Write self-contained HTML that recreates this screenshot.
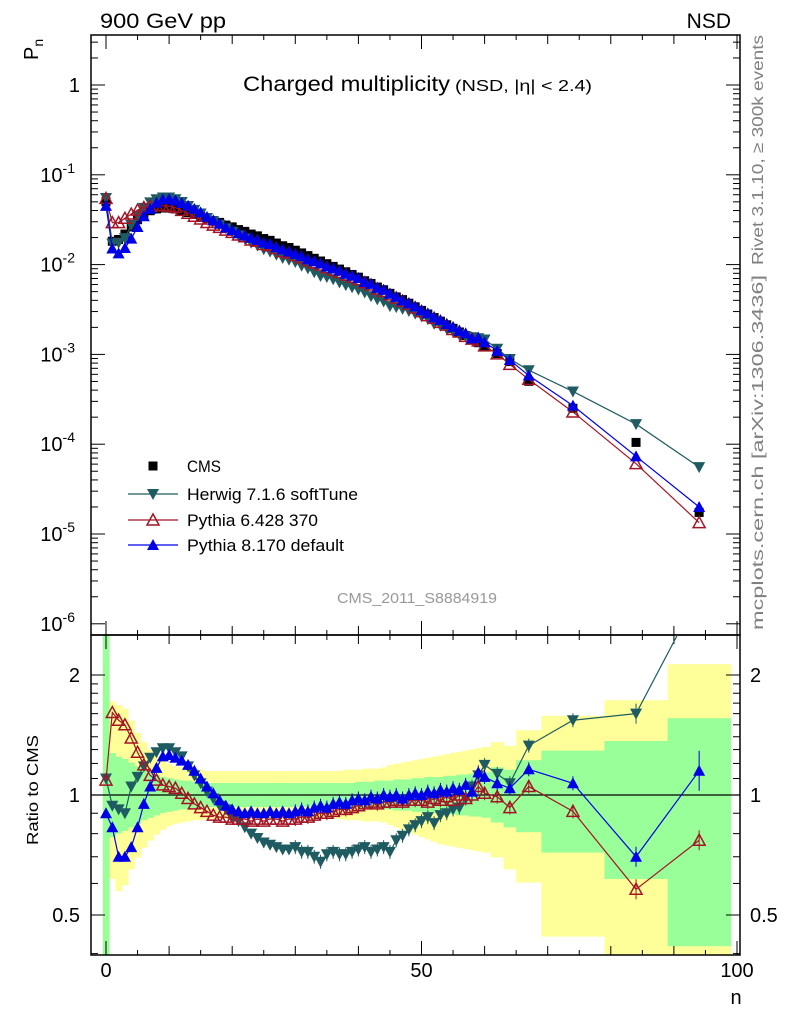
<!DOCTYPE html>
<html><head><meta charset="utf-8"><style>
html,body{margin:0;background:#fff;overflow:hidden;width:786px;height:1024px}
svg{display:block}
svg text{font-family:"Liberation Sans",sans-serif}
</style></head><body>
<svg id="chart" width="786" height="1024" viewBox="0 0 786 1024" xmlns="http://www.w3.org/2000/svg">
<defs>
<clipPath id="cm"><rect x="91" y="35" width="649" height="600"/></clipPath>
<clipPath id="cr"><rect x="91" y="635" width="649" height="320"/></clipPath>
</defs>
<rect width="786" height="1024" fill="#fff"/>
<g id="bands" clip-path="url(#cr)"></g>
<g id="axes"></g>
<g id="mainMarks" clip-path="url(#cm)"></g>
<g id="ratioMarks" clip-path="url(#cr)"></g>
<text x="100" y="28" font-size="21" textLength="126" lengthAdjust="spacingAndGlyphs">900 GeV pp</text>
<text x="731" y="28" font-size="21" text-anchor="end">NSD</text>
<text x="243" y="91" font-size="21" textLength="207" lengthAdjust="spacingAndGlyphs">Charged multiplicity</text>
<text x="455" y="91" font-size="16" textLength="137" lengthAdjust="spacingAndGlyphs">(NSD, |η| &lt; 2.4)</text>
<text transform="translate(38,60) rotate(-90)" font-size="20">P<tspan font-size="14" dy="5">n</tspan></text>
<text transform="translate(38,790) rotate(-90)" font-size="16" text-anchor="middle" textLength="110" lengthAdjust="spacingAndGlyphs">Ratio to CMS</text>
<text x="736" y="1004" font-size="20" text-anchor="middle">n</text>
<text transform="translate(763,265) rotate(-90)" font-size="16" fill="#808080" textLength="230" lengthAdjust="spacingAndGlyphs">Rivet 3.1.10, ≥ 300k events</text>
<text transform="translate(763,630) rotate(-90)" font-size="16" fill="#808080" textLength="355" lengthAdjust="spacingAndGlyphs">mcplots.cern.ch [arXiv:1306.3436]</text>
<text x="417" y="603" font-size="15" fill="#999" text-anchor="middle" textLength="160" lengthAdjust="spacingAndGlyphs">CMS_2011_S8884919</text>
<g id="legend"></g>
</svg>
<script>
const nVals=[0,1,2,3,4,5,6,7,8,9,10,11,12,13,14,15,16,17,18,19,20,21,22,23,24,25,26,27,28,29,30,31,32,33,34,35,36,37,38,39,40,41,42,43,44,45,46,47,48,49,50,51,52,53,54,55,56,57,58,59,60,62,64,67,74,84,94];
const binEdges=[-0.5,0.5,1.5,2.5,3.5,4.5,5.5,6.5,7.5,8.5,9.5,10.5,11.5,12.5,13.5,14.5,15.5,16.5,17.5,18.5,19.5,20.5,21.5,22.5,23.5,24.5,25.5,26.5,27.5,28.5,29.5,30.5,31.5,32.5,33.5,34.5,35.5,36.5,37.5,38.5,39.5,40.5,41.5,42.5,43.5,44.5,45.5,46.5,47.5,48.5,49.5,50.5,51.5,52.5,53.5,54.5,55.5,56.5,57.5,58.5,59.5,61,63,65,69,79,89,99];
const cmsLog=[-1.30,-1.74,-1.72,-1.66,-1.58,-1.50,-1.44,-1.40,-1.38,-1.37,-1.37,-1.38,-1.40,-1.42,-1.44,-1.46,-1.49,-1.51,-1.53,-1.56,-1.58,-1.61,-1.63,-1.66,-1.68,-1.71,-1.73,-1.76,-1.79,-1.81,-1.84,-1.87,-1.90,-1.93,-1.96,-1.99,-2.02,-2.05,-2.08,-2.11,-2.14,-2.18,-2.21,-2.25,-2.28,-2.32,-2.36,-2.39,-2.43,-2.47,-2.51,-2.55,-2.59,-2.63,-2.67,-2.71,-2.75,-2.79,-2.83,-2.87,-2.91,-2.99,-3.08,-3.30,-3.60,-3.98,-4.76];
const herwigRatio=[1.10,0.94,0.92,0.90,1.05,1.11,1.18,1.24,1.28,1.31,1.31,1.28,1.25,1.18,1.12,1.07,1.02,0.98,0.94,0.92,0.88,0.86,0.83,0.80,0.78,0.76,0.75,0.74,0.73,0.73,0.74,0.72,0.72,0.70,0.68,0.71,0.72,0.71,0.71,0.72,0.73,0.74,0.72,0.73,0.74,0.72,0.77,0.79,0.82,0.84,0.86,0.88,0.85,0.89,0.90,0.92,0.93,0.98,1.05,1.12,1.19,1.13,1.07,1.33,1.54,1.60,3.20];
const py6Ratio=[1.09,1.61,1.54,1.50,1.39,1.28,1.19,1.12,1.09,1.06,1.05,1.04,1.01,0.98,0.95,0.93,0.91,0.89,0.88,0.88,0.87,0.87,0.87,0.86,0.87,0.86,0.87,0.87,0.86,0.87,0.87,0.88,0.88,0.89,0.90,0.90,0.91,0.92,0.92,0.93,0.94,0.95,0.96,0.95,0.96,0.96,0.97,0.96,0.97,0.97,0.97,0.96,0.98,0.97,0.99,0.97,1.00,0.98,1.00,1.05,1.01,0.99,0.93,1.05,0.91,0.58,0.77];
const py8Ratio=[0.90,0.83,0.70,0.70,0.74,0.83,0.95,1.05,1.17,1.25,1.26,1.24,1.22,1.19,1.15,1.10,1.05,1.01,0.97,0.94,0.92,0.91,0.90,0.91,0.90,0.90,0.91,0.90,0.91,0.90,0.91,0.92,0.91,0.93,0.94,0.93,0.95,0.96,0.95,0.97,0.98,0.97,0.99,0.98,1.00,0.99,1.00,0.98,1.00,1.01,1.00,1.02,1.01,1.03,1.02,1.04,1.03,1.06,1.02,1.14,1.11,1.07,1.04,1.16,1.07,0.70,1.15];
const greenUp=[3.0,0.35,0.32,0.30,0.27,0.24,0.21,0.19,0.17,0.15,0.14,0.13,0.12,0.12,0.11,0.11,0.10,0.10,0.10,0.10,0.10,0.10,0.10,0.10,0.10,0.10,0.10,0.10,0.10,0.10,0.10,0.10,0.10,0.10,0.10,0.10,0.10,0.10,0.10,0.10,0.11,0.11,0.11,0.12,0.12,0.12,0.13,0.13,0.13,0.14,0.14,0.15,0.15,0.15,0.16,0.16,0.17,0.17,0.18,0.18,0.19,0.23,0.21,0.29,0.37,0.45,0.64];
const greenDown=[3.0,0.35,0.32,0.30,0.27,0.24,0.21,0.19,0.17,0.15,0.14,0.13,0.12,0.12,0.11,0.11,0.10,0.10,0.10,0.10,0.10,0.10,0.10,0.10,0.10,0.10,0.10,0.10,0.10,0.10,0.10,0.10,0.10,0.10,0.10,0.10,0.10,0.10,0.10,0.10,0.11,0.11,0.11,0.12,0.12,0.12,0.13,0.13,0.13,0.14,0.14,0.15,0.15,0.15,0.16,0.16,0.17,0.17,0.18,0.18,0.19,0.23,0.27,0.31,0.48,0.70,1.26];
const yellowUp=[1.07,0.78,0.75,0.72,0.62,0.52,0.44,0.38,0.33,0.29,0.26,0.24,0.23,0.22,0.21,0.21,0.20,0.20,0.20,0.20,0.20,0.20,0.20,0.20,0.20,0.20,0.20,0.20,0.20,0.20,0.20,0.20,0.20,0.20,0.20,0.20,0.20,0.20,0.21,0.21,0.21,0.22,0.22,0.22,0.23,0.25,0.26,0.27,0.28,0.29,0.30,0.31,0.32,0.33,0.34,0.35,0.36,0.37,0.38,0.39,0.40,0.44,0.41,0.54,0.66,0.79,1.09];
const yellowDown=[3.0,0.70,0.80,0.75,0.62,0.52,0.44,0.38,0.33,0.29,0.26,0.24,0.23,0.22,0.21,0.21,0.20,0.20,0.20,0.20,0.20,0.20,0.20,0.20,0.20,0.20,0.20,0.20,0.20,0.20,0.20,0.20,0.20,0.20,0.20,0.20,0.20,0.20,0.21,0.21,0.21,0.22,0.22,0.22,0.23,0.25,0.27,0.29,0.31,0.33,0.35,0.37,0.39,0.41,0.42,0.43,0.44,0.45,0.46,0.47,0.48,0.52,0.62,0.73,1.18,1.50,1.50];
const xTicks=[0,50,100];
const yTickExp=[0,-1,-2,-3,-4,-5,-6];
const ratioTicks=[0.5,1,2];

const NS='http://www.w3.org/2000/svg';
const X0=91,X1=740,MT=35,MB=635,RB=955;
const xs=n=>106+n*6.31;
const ysLog=l=>85-l*89.8;
const ysR=r=>795-Math.log2(r)*120;
function mk(tag,attrs,parent){const e=document.createElementNS(NS,tag);for(const k in attrs)e.setAttribute(k,attrs[k]);parent.appendChild(e);return e;}
const bands=document.getElementById('bands'),axes=document.getElementById('axes'),mm=document.getElementById('mainMarks'),rm=document.getElementById('ratioMarks'),lg=document.getElementById('legend');

const N=nVals.length;
[[yellowUp,yellowDown,'#ffff99','yellow-band'],[greenUp,greenDown,'#99ff99','green-band']].forEach(([wu,wd,c,name])=>{
  for(let i=0;i<N;i++){
    const top=ysR(Math.pow(2,wu[i])),bot=ysR(Math.pow(2,-wd[i]));
    const x1=xs(binEdges[i]),x2=xs(binEdges[i+1]);
    const r=mk('rect',{x:x1,y:top,width:x2-x1+0.5,height:bot-top,fill:c},bands);
    
    
  }
});

mk('rect',{x:X0,y:MT,width:X1-X0,height:MB-MT,fill:'none',stroke:'#000','stroke-width':1.5},axes);
mk('rect',{x:X0,y:MB,width:X1-X0,height:RB-MB,fill:'none',stroke:'#000','stroke-width':1.5},axes);
mk('line',{x1:X0,x2:X1,y1:ysR(1),y2:ysR(1),stroke:'#000','stroke-width':1.2},axes);
for(let n=0;n<=100;n+=5){const L=n%50==0?14:(n%10==0?9:5);const x=xs(n);
  [[RB,-1],[MB,-1],[MB,1],[MT,1]].forEach(([y,s])=>mk('line',{x1:x,x2:x,y1:y,y2:y+s*L,stroke:'#000'},axes));}
xTicks.forEach(n=>{const t=mk('text',{x:xs(n),y:977,'font-size':20,'text-anchor':'middle'},axes);t.textContent=n;
  
  });
for(let e=-6;e<=0;e++){for(let m=1;m<10;m++){const l=e+Math.log10(m);const y=ysLog(l);if(y<MT||y>MB)continue;const L=m==1?14:7;
  mk('line',{x1:X0,x2:X0+L,y1:y,y2:y,stroke:'#000'},axes);mk('line',{x1:X1,x2:X1-L,y1:y,y2:y,stroke:'#000'},axes);}}
yTickExp.forEach(e=>{const y=ysLog(e);let t;
  if(e==0){t=mk('text',{x:80,y:y+7,'font-size':20,'text-anchor':'end'},axes);t.textContent='1';}
  else{t=mk('text',{x:75,y:y+7,'font-size':20,'text-anchor':'end'},axes);t.textContent='10';const s=mk('tspan',{'font-size':14,dy:-9},t);s.textContent=e;}
  
  });
[0.4,0.5,0.6,0.7,0.8,0.9,1,2,1.1,1.2,1.3,1.4,1.5,1.6,1.7,1.8,1.9].forEach(r=>{const y=ysR(r);if(y<MB||y>RB)return;const L=(r==0.5||r==1||r==2)?14:7;
  mk('line',{x1:X0,x2:X0+L,y1:y,y2:y,stroke:'#000'},axes);mk('line',{x1:X1,x2:X1-L,y1:y,y2:y,stroke:'#000'},axes);});
ratioTicks.forEach(r=>{const y=ysR(r)+7;[[80,'end'],[750,'start']].forEach(([x,a])=>{const t=mk('text',{x:x,y:y,'font-size':20,'text-anchor':a},axes);t.textContent=r;
  
  });});

function marker(type,x,y,col,g,name){let e;
  if(type=='sq')e=mk('rect',{x:x-4.5,y:y-4.5,width:9,height:9,fill:col},g);
  else if(type=='down')e=mk('polygon',{points:`${x-6},${y-5} ${x+6},${y-5} ${x},${y+6}`,fill:col},g);
  else if(type=='upo')e=mk('polygon',{points:`${x-6},${y+5} ${x+6},${y+5} ${x},${y-6}`,fill:'none',stroke:col,'stroke-width':1.5},g);
  else e=mk('polygon',{points:`${x-6},${y+5} ${x+6},${y+5} ${x},${y-6}`,fill:col},g);
  
  }
const series=[
  [herwigRatio,'#1f5c62','down','herwig'],
  [py6Ratio,'#a31526','upo','pythia6'],
  [py8Ratio,'#0000e6','up','pythia8']];
nVals.forEach((n,i)=>marker('sq',xs(n),ysLog(cmsLog[i]),'#000',mm,'cms-point'));
series.forEach(([rat,col,type,nm])=>{
  const pm=nVals.map((n,i)=>xs(n)+','+ysLog(cmsLog[i]+Math.log10(rat[i]))).join(' ');
  const l1=mk('polyline',{points:pm,fill:'none',stroke:col,'stroke-width':1.2},mm);
  
  
  nVals.forEach((n,i)=>marker(type,xs(n),ysLog(cmsLog[i]+Math.log10(rat[i])),col,mm,nm+'-point'));
  const pr=nVals.map((n,i)=>xs(n)+','+ysR(rat[i])).join(' ');
  const l2=mk('polyline',{points:pr,fill:'none',stroke:col,'stroke-width':1.2},rm);
  
  
  nVals.forEach((n,i)=>{const y=ysR(rat[i]);if(n>=30){const e=n>=84?(nm=='pythia8'&&n==94?20:10):7;mk('line',{x1:xs(n),x2:xs(n),y1:y-e,y2:y+e,stroke:col},rm);}
    marker(type,xs(n),y,col,rm,nm+'-ratio-point');});
});

const leg=[['sq','#000','CMS',null,34],['down','#1f5c62','Herwig 7.1.6 softTune',1,171],['upo','#a31526','Pythia 6.428 370',1,131],['up','#0000e6','Pythia 8.170 default',1,157]];
const ly=[466,494,520,545];
leg.forEach(([t,c,label,line,w],i)=>{const g=mk('g',{},lg);
  if(line)mk('line',{x1:128,x2:178,y1:ly[i],y2:ly[i],stroke:c,'stroke-width':1.2},g);
  marker(t,153,ly[i],c,g,'legend-marker');
  const tx=mk('text',{x:187,y:ly[i]+6,'font-size':17,textLength:w,lengthAdjust:'spacingAndGlyphs'},g);tx.textContent=label;});
</script>
</body></html>
